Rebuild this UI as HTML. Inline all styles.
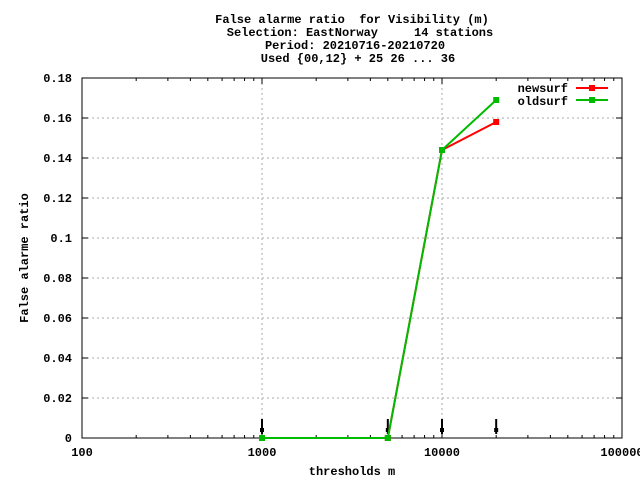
<!DOCTYPE html>
<html><head><meta charset="utf-8"><style>
body{margin:0;background:#fff;width:640px;height:480px;overflow:hidden}
text{font-family:"Liberation Mono","DejaVu Sans Mono",monospace;font-size:12px;font-weight:bold;fill:#000;white-space:pre}
</style></head><body>
<svg id="chart" width="640" height="480" xmlns="http://www.w3.org/2000/svg" xml:space="preserve">
<g>
<text x="352" y="23" text-anchor="middle">False alarme ratio  for Visibility (m)</text>
<text x="360" y="36" text-anchor="middle">Selection: EastNorway     14 stations</text>
<text x="355" y="49" text-anchor="middle">Period: 20210716-20210720</text>
<text x="358" y="62" text-anchor="middle">Used {00,12} + 25 26 ... 36</text>
</g>
<g id="grid"></g>
<g id="axes"></g>
<g id="series"></g>
<text x="352" y="475" text-anchor="middle">thresholds m</text>
<text transform="translate(28,258) rotate(-90)" text-anchor="middle">False alarme ratio</text>
<g>
<text x="568" y="92" text-anchor="end">newsurf</text>
<line x1="576" y1="88" x2="608" y2="88" stroke="#f00" stroke-width="2"/>
<rect x="589" y="85" width="6" height="6" fill="#f00"/>
<text x="568" y="105" text-anchor="end">oldsurf</text>
<line x1="576" y1="100" x2="608" y2="100" stroke="#0b0" stroke-width="2"/>
<rect x="589" y="97" width="6" height="6" fill="#0b0"/>
</g>
</svg>
<script>
const thresholds=[1000,5000,10000,20000];
const newsurf=[0,0,0.144,0.158];
const oldsurf=[0,0,0.144,0.169];
const yTicks=[0,0.02,0.04,0.06,0.08,0.1,0.12,0.14,0.16,0.18];
const yTickLabels=["0","0.02","0.04","0.06","0.08","0.1","0.12","0.14","0.16","0.18"];
const xTicks=[100,1000,10000,100000];
const xTickLabels=["100","1000","10000","100000"];
const L=82,R=622,T=78,B=438;
const xs=v=>L+(Math.log10(v)-2)/3*(R-L);
const ys=v=>B-v/0.18*(B-T);
const NS="http://www.w3.org/2000/svg";
function mk(p,t,a){const e=document.createElementNS(NS,t);for(const k in a)e.setAttribute(k,a[k]);p.appendChild(e);return e;}
const grid=document.getElementById('grid'),axes=document.getElementById('axes'),ser=document.getElementById('series');
yTicks.forEach((v,i)=>{
 if(i>0&&i<yTicks.length-1){const g=mk(grid,'line',{x1:L,x2:R,y1:ys(v),y2:ys(v),stroke:'#aaa','stroke-dasharray':'2,3'});
 }
 mk(axes,'line',{x1:L,x2:L+6,y1:ys(v),y2:ys(v),stroke:'#000'});
 mk(axes,'line',{x1:R,x2:R-6,y1:ys(v),y2:ys(v),stroke:'#000'});
 const t=mk(axes,'text',{x:L-10,y:ys(v)+4,'text-anchor':'end'});t.textContent=yTickLabels[i];
 
});
xTicks.forEach((v,i)=>{
 const x=xs(v);
 if(i>0&&i<xTicks.length-1){const g=mk(grid,'line',{x1:x,x2:x,y1:T,y2:B,stroke:'#aaa','stroke-dasharray':'2,3'});
 }
 mk(axes,'line',{x1:x,x2:x,y1:B,y2:B-6,stroke:'#000'});
 mk(axes,'line',{x1:x,x2:x,y1:T,y2:T+6,stroke:'#000'});
 const t=mk(axes,'text',{x:x,y:B+18,'text-anchor':'middle'});t.textContent=xTickLabels[i];
 
 if(i<xTicks.length-1)for(let m=2;m<10;m++){const xm=xs(v*m);
  mk(axes,'line',{x1:xm,x2:xm,y1:B,y2:B-3,stroke:'#000'});mk(axes,'line',{x1:xm,x2:xm,y1:T,y2:T+3,stroke:'#000'});}
});
mk(axes,'rect',{x:L,y:T,width:R-L,height:B-T,fill:'none',stroke:'#000'});
thresholds.forEach(v=>{const x=xs(v);
 const a=mk(axes,'line',{x1:x,x2:x,y1:419,y2:434,stroke:'#000','stroke-width':2});
 
 mk(axes,'rect',{x:x-2,y:428,width:4,height:4,fill:'#000'});});
function draw(vals,col,name){
 const g=mk(ser,'g',{});
 mk(g,'polyline',{points:thresholds.map((t,i)=>xs(t)+','+ys(vals[i])).join(' '),fill:'none',stroke:col,'stroke-width':2});
 thresholds.forEach((t,i)=>{const p=mk(g,'rect',{x:xs(t)-3,y:ys(vals[i])-3,width:6,height:6,fill:col});
 });
}
draw(newsurf,'#f00','newsurf');
draw(oldsurf,'#0b0','oldsurf');
</script>
</body></html>
